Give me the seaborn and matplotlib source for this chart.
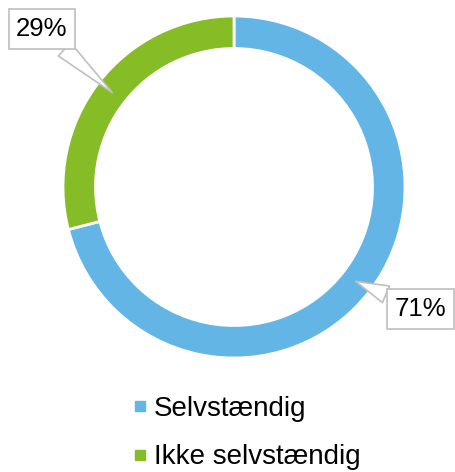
import numpy as np
import matplotlib
matplotlib.use("Agg")
import matplotlib.pyplot as plt
from matplotlib.lines import Line2D
import seaborn as sns

categories = ["Selvstændig", "Ikke selvstændig"]
shares = [71, 29]
label_text_pos = [(1.088, -0.713), (-1.123, 0.924)]

sns.set_theme(style="white")
plt.rcParams["font.family"] = ["Liberation Sans", "DejaVu Sans"]
plt.rcParams["text.color"] = "black"

colors = ["#63B5E6", "#86BC25"]

fig = plt.figure(figsize=(4.55, 4.72), dpi=100)
ax = fig.add_axes([63 / 455, 1 - 358 / 472, 342 / 455, 342 / 472])

wedges, _ = ax.pie(
    shares,
    colors=colors,
    startangle=90,
    counterclock=False,
    radius=1.0,
    wedgeprops=dict(width=0.19, edgecolor="white", linewidth=2),
)
ax.set_xlim(-1, 1)
ax.set_ylim(-1, 1)
ax.set_aspect("equal")

for w, val, tpos in zip(wedges, shares, label_text_pos):
    mid = np.deg2rad((w.theta1 + w.theta2) / 2)
    anchor = (0.9 * np.cos(mid), 0.9 * np.sin(mid))
    ax.annotate(
        f"{val}%",
        xy=anchor,
        xytext=tpos,
        ha="center",
        va="center",
        fontsize=18.5,
        color="black",
        annotation_clip=False,
        bbox=dict(boxstyle="square,pad=0.3", fc="white", ec="#BFBFBF", lw=1.2),
        arrowprops=dict(arrowstyle="wedge,tail_width=0.7", fc="white", ec="#BFBFBF", lw=1.2,
                        shrinkA=0, shrinkB=0),
    )

handles = [Line2D([0], [0], marker="s", linestyle="none", markersize=7.5,
                  markerfacecolor=c, markeredgecolor=c) for c in colors]
fig.legend(
    handles, categories,
    loc="upper left",
    bbox_to_anchor=(133 / 455, 1 - 396 / 472),
    frameon=False,
    fontsize=20,
    labelcolor="black",
    handlelength=0.5,
    handletextpad=0.25,
    labelspacing=0.8,
    borderpad=0,
    borderaxespad=0,
)

fig.savefig("out.png", dpi=100)
